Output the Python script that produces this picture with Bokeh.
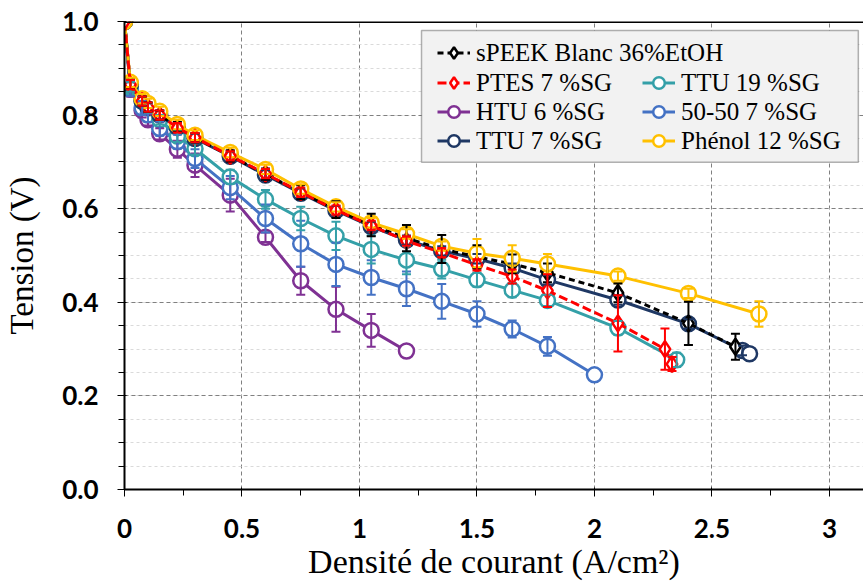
from bokeh.plotting import figure
from bokeh.models import (ColumnDataSource, Whisker, TeeHead, FixedTicker, CustomJSTickFormatter,
                          PrintfTickFormatter, Legend, LegendItem, BoxAnnotation, Span, Range1d)
from bokeh.embed import file_html
from bokeh.resources import INLINE

# ---------------- data ----------------
x_speek = [0, 0.025, 0.075, 0.1, 0.15, 0.225, 0.3, 0.45, 0.6, 0.75, 0.9, 1.05, 1.2, 1.35, 1.5, 1.65, 1.8, 2.1, 2.4, 2.6]
y_speek = [1.0, 0.866, 0.83, 0.817, 0.80, 0.775, 0.752, 0.713, 0.674, 0.635, 0.598, 0.565, 0.537, 0.514, 0.497, 0.482, 0.463, 0.42, 0.355, 0.305]
e_speek = [0, 0.01, 0.01, 0.01, 0.01, 0.01, 0.01, 0.012, 0.012, 0.015, 0.018, 0.024, 0.028, 0.03, 0.025, 0.02, 0.02, 0.02, 0.046, 0.028]

x_ptes = [0, 0.025, 0.075, 0.1, 0.15, 0.225, 0.3, 0.45, 0.6, 0.75, 0.9, 1.05, 1.2, 1.35, 1.5, 1.65, 1.8, 2.1, 2.3, 2.33]
y_ptes = [1.0, 0.865, 0.83, 0.817, 0.80, 0.773, 0.752, 0.713, 0.675, 0.635, 0.597, 0.564, 0.531, 0.506, 0.480, 0.455, 0.425, 0.355, 0.30, 0.268]
e_ptes = [0, 0.01, 0.01, 0.01, 0.01, 0.01, 0.01, 0.01, 0.01, 0.01, 0.01, 0.01, 0.01, 0.01, 0.012, 0.015, 0.035, 0.06, 0.044, 0.015]

x_htu = [0, 0.025, 0.075, 0.1, 0.15, 0.225, 0.3, 0.45, 0.6, 0.75, 0.9, 1.05, 1.2]
y_htu = [1.0, 0.855, 0.81, 0.79, 0.76, 0.727, 0.693, 0.629, 0.539, 0.446, 0.385, 0.340, 0.296]
e_htu = [0, 0.015, 0.015, 0.012, 0.012, 0.018, 0.025, 0.035, 0.01, 0.03, 0.048, 0.035, 0]

x_ttu7 = [0, 0.025, 0.075, 0.1, 0.15, 0.225, 0.3, 0.45, 0.6, 0.75, 0.9, 1.05, 1.2, 1.35, 1.5, 1.65, 1.8, 2.1, 2.4, 2.63, 2.66]
y_ttu7 = [1.0, 0.866, 0.83, 0.817, 0.80, 0.774, 0.75, 0.712, 0.672, 0.633, 0.596, 0.562, 0.533, 0.51, 0.493, 0.473, 0.448, 0.405, 0.354, 0.297, 0.29]
e_ttu7 = [0, 0.01, 0.01, 0.01, 0.01, 0.01, 0.01, 0.01, 0.01, 0.01, 0.01, 0.01, 0.01, 0.01, 0.01, 0.01, 0.01, 0.01, 0.01, 0.01, 0]

x_ttu19 = [0, 0.025, 0.075, 0.1, 0.15, 0.225, 0.3, 0.45, 0.6, 0.75, 0.9, 1.05, 1.2, 1.35, 1.5, 1.65, 1.8, 2.1, 2.35]
y_ttu19 = [1.0, 0.86, 0.83, 0.815, 0.79, 0.755, 0.728, 0.668, 0.620, 0.579, 0.542, 0.513, 0.490, 0.471, 0.448, 0.426, 0.404, 0.345, 0.277]
e_ttu19 = [0, 0.01, 0.01, 0.01, 0.01, 0.012, 0.012, 0.015, 0.02, 0.025, 0.03, 0.03, 0.03, 0.02, 0.015, 0.015, 0.012, 0.015, 0.015]

x_5050 = [0, 0.025, 0.075, 0.1, 0.15, 0.225, 0.3, 0.45, 0.6, 0.75, 0.9, 1.05, 1.2, 1.35, 1.5, 1.65, 1.8, 2.0]
y_5050 = [1.0, 0.856, 0.815, 0.80, 0.771, 0.743, 0.707, 0.645, 0.579, 0.525, 0.481, 0.453, 0.429, 0.402, 0.375, 0.343, 0.306, 0.245]
e_5050 = [0, 0.015, 0.015, 0.015, 0.015, 0.015, 0.02, 0.025, 0.03, 0.049, 0.046, 0.037, 0.037, 0.037, 0.027, 0.018, 0.02, 0]

x_phenol = [0, 0.025, 0.075, 0.1, 0.15, 0.225, 0.3, 0.45, 0.6, 0.75, 0.9, 1.05, 1.2, 1.35, 1.5, 1.65, 1.8, 2.1, 2.4, 2.7]
y_phenol = [1.0, 0.87, 0.835, 0.825, 0.808, 0.78, 0.757, 0.72, 0.684, 0.642, 0.604, 0.57, 0.546, 0.52, 0.505, 0.494, 0.482, 0.456, 0.419, 0.375]
e_phenol = [0, 0.01, 0.01, 0.01, 0.01, 0.01, 0.01, 0.01, 0.01, 0.01, 0.01, 0.01, 0.01, 0.01, 0.03, 0.028, 0.021, 0.01, 0.01, 0.027]

labels = ["sPEEK Blanc 36%EtOH", "PTES 7 %SG", "HTU 6 %SG", "TTU 7 %SG",
          "TTU 19 %SG", "50-50 7 %SG", "Phénol 12 %SG"]

x_ticks = [0, 0.5, 1, 1.5, 2, 2.5, 3]
x_minor = [0.25, 0.75, 1.25, 1.75, 2.25, 2.75]
y_ticks = [0.0, 0.2, 0.4, 0.6, 0.8, 1.0]
y_minor = [i * 0.05 for i in range(21)]

# ---------------- figure ----------------
p = figure(width=863, height=582, x_range=Range1d(0, 3.145), y_range=Range1d(0, 1.0),
           output_backend="svg", toolbar_location=None,
           min_border_left=124, min_border_right=0, min_border_top=21, min_border_bottom=92)
p.outline_line_color = None
p.background_fill_color = "white"

p.xaxis.ticker = FixedTicker(ticks=x_ticks, minor_ticks=x_minor)
p.yaxis.ticker = FixedTicker(ticks=y_ticks, minor_ticks=y_minor)
p.xaxis.formatter = CustomJSTickFormatter(code="return (Math.round(tick*10)/10).toString();")
p.yaxis.formatter = PrintfTickFormatter(format="%.1f")

for ax in (p.xaxis[0], p.yaxis[0]):
    ax.axis_line_color = "black"
    ax.axis_line_width = 2
    ax.major_tick_line_color = "black"
    ax.minor_tick_line_color = "black"
    ax.major_tick_line_width = 1
    ax.minor_tick_line_width = 1
    ax.major_tick_out = 7
    ax.major_tick_in = 2
    ax.minor_tick_out = 6
    ax.minor_tick_in = 0
    ax.major_label_text_font = "Lato"
    ax.major_label_text_font_style = "bold"
    ax.major_label_text_font_size = "26px"
    ax.major_label_text_color = "black"
    ax.axis_label_text_font = "Liberation Serif"
    ax.axis_label_text_font_style = "normal"
    ax.axis_label_text_color = "black"

p.xaxis.axis_label = "Densité de courant (A/cm²)"
p.yaxis.axis_label = "Tension (V)"
p.xaxis.axis_label_text_font_size = "34px"
p.yaxis.axis_label_text_font_size = "33px"
p.yaxis.major_label_standoff = 19
p.yaxis.axis_label_standoff = 19
p.xaxis.major_label_standoff = 22
p.xaxis.axis_label_standoff = 2

p.xgrid.grid_line_color = "#808080"
p.xgrid.grid_line_dash = "4 3"
p.ygrid.grid_line_color = "#808080"
p.ygrid.grid_line_dash = "4 3"
p.ygrid.minor_grid_line_color = "#DADADA"
p.ygrid.minor_grid_line_dash = "3 3"

p.add_layout(Span(location=1.0, dimension="width", line_color="black", line_width=3))


def add_series(xs, ys, es, color, marker, dash):
    lower = [y - e for y, e in zip(ys, es) if e > 0]
    upper = [y + e for y, e in zip(ys, es) if e > 0]
    base = [x for x, e in zip(xs, es) if e > 0]
    wsrc = ColumnDataSource(dict(base=base, lower=lower, upper=upper))
    w = Whisker(source=wsrc, base="base", lower="lower", upper="upper",
                line_color=color, line_width=2, level="glyph",
                upper_head=TeeHead(size=9, line_color=color, line_width=2),
                lower_head=TeeHead(size=9, line_color=color, line_width=2))
    p.add_layout(w)
    src = ColumnDataSource(dict(x=xs, y=ys))
    ln = p.line("x", "y", source=src, line_color=color, line_width=3, line_dash=dash)
    sc = p.scatter("x", "y", source=src, marker=marker, size=15 if marker == "circle" else 16,
                   fill_color="white", line_color=color, line_width=2.5)
    return [ln, sc]


C_PURPLE = "#7F3193"
C_BLUE = "#4472C4"
C_TEAL = "#34A0A8"
C_NAVY = "#1F3864"
C_BLACK = "#000000"
C_YELLOW = "#FFC000"
C_RED = "#FF0000"

r_htu = add_series(x_htu, y_htu, e_htu, C_PURPLE, "circle", "solid")
r_5050 = add_series(x_5050, y_5050, e_5050, C_BLUE, "circle", "solid")
r_ttu19 = add_series(x_ttu19, y_ttu19, e_ttu19, C_TEAL, "circle", "solid")
r_ttu7 = add_series(x_ttu7, y_ttu7, e_ttu7, C_NAVY, "circle", "solid")
r_speek = add_series(x_speek, y_speek, e_speek, C_BLACK, "diamond", "6 4")
r_phenol = add_series(x_phenol, y_phenol, e_phenol, C_YELLOW, "circle", "solid")
r_ptes = add_series(x_ptes, y_ptes, e_ptes, C_RED, "diamond", "9 4")

# ---------------- legend ----------------
p.add_layout(BoxAnnotation(left=1.264, right=3.123, bottom=0.699, top=0.981,
                           fill_color="#F2F2F2", fill_alpha=1.0,
                           line_color="black", line_width=1.5, level="annotation"))


def make_legend(items, loc):
    lg = Legend(items=items, location=loc, orientation="vertical",
                padding=0, margin=0, spacing=0,
                glyph_width=33, glyph_height=29, label_height=29, label_standoff=6,
                label_text_font="Liberation Serif", label_text_font_size="25px",
                label_text_color="black",
                border_line_color=None, background_fill_alpha=0)
    p.add_layout(lg, "center")


make_legend([LegendItem(label=labels[0], renderers=r_speek)], (313, 422))
make_legend([LegendItem(label=labels[1], renderers=r_ptes),
             LegendItem(label=labels[2], renderers=r_htu),
             LegendItem(label=labels[3], renderers=r_ttu7)], (313, 334))
make_legend([LegendItem(label=labels[4], renderers=r_ttu19),
             LegendItem(label=labels[5], renderers=r_5050),
             LegendItem(label=labels[6], renderers=r_phenol)], (518, 334))

open("out.html", "w").write(file_html(p, INLINE))
